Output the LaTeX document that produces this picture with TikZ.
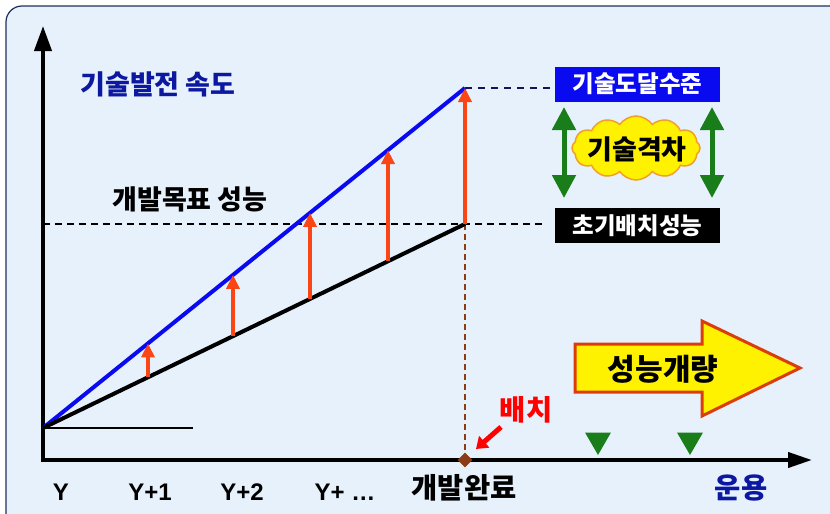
\documentclass[tikz,border=0pt]{standalone}
\usepackage{fontspec}
\setmainfont{Noto Sans CJK KR}
\newfontfamily\lat{Liberation Sans}
\usetikzlibrary{arrows.meta,calc,shapes.symbols,shapes.geometric}
\definecolor{bgc}{RGB}{230,241,252}
\definecolor{bord}{RGB}{30,50,90}
\definecolor{navy}{RGB}{12,24,160}
\definecolor{lblue}{RGB}{10,10,240}
\definecolor{redo}{RGB}{250,70,20}
\definecolor{grn}{RGB}{25,125,25}
\definecolor{brn}{RGB}{140,60,20}
\definecolor{cloudb}{RGB}{240,160,40}
\definecolor{arrb}{RGB}{220,60,10}
\definecolor{navyd}{RGB}{20,20,90}
\tikzset{
  lbl/.style={font=\bfseries\fontsize{27}{27}\selectfont},
  lblb/.style={font=\bfseries\fontsize{28.5}{28.5}\selectfont},
  ylbl/.style={font=\lat\bfseries\fontsize{24}{24}\selectfont},
  upar/.style={redo,line width=4pt,-{Triangle[width=13pt,length=14pt]}},
  gap/.style={grn,line width=5pt,{Triangle[width=23pt,length=23pt]}-{Triangle[width=23pt,length=23pt]}},
  tbox/.style={minimum width=165pt,minimum height=35pt,inner sep=0pt,text=white,font=\bfseries\fontsize{23.5}{23.5}\selectfont},
  gtri/.style={fill=grn,draw=none,regular polygon,regular polygon sides=3,shape border rotate=180,minimum size=30pt,inner sep=0pt},
}
\begin{document}
\begin{tikzpicture}[x=1pt,y=-1pt]
\useasboundingbox (0,0) rectangle (830,514);
\begin{scope}
\clip (0,0) rectangle (830,514);
\draw[bord,line width=1.2pt,fill=bgc,rounded corners=16pt] (6,6) rectangle (860,540);
\end{scope}
% axes
\coordinate (O) at (43,428);
\coordinate (B) at (465,88);
\coordinate (K) at (465,224);
\coordinate (ax0) at (43,460);
\coordinate (ytop) at (43,26);
\coordinate (xend) at (812,460);
\draw[line width=4pt,-{Triangle[width=17pt,length=25pt]}] ($(ax0)+(0,2)$) -- (ytop);
\draw[line width=4pt,-{Triangle[width=15pt,length=24pt]}] ($(ax0)+(-2,0)$) -- (xend);
% thin baseline
\coordinate (thinE) at (193,428);
\draw[line width=1.5pt] (O) -- (thinE);
% dashed lines
\coordinate (dB) at (552,88);
\coordinate (dK) at (545,224);
\coordinate (dL) at (43,224);
\draw[navyd,line width=1.3pt,dash pattern=on 7pt off 6pt] (B) -- (dB);
\draw[line width=1.3pt,dash pattern=on 7pt off 5pt] (dL) -- (dK);
\coordinate (dia) at (465,460);
\draw[brn,line width=1.2pt,dash pattern=on 6pt off 4pt] (K) -- (dia);
% lines
\draw[lblue,line width=4pt] (O) -- (B);
\draw[line width=4pt] (O) -- (K);
% red arrows
\foreach \t in {0.2488,0.4502,0.6327,0.8175}
  \draw[upar] ($(O)!\t!(K)$) -- ($(O)!\t!(B)$);
\draw[upar] (K) -- (B);
% diamond
\node[diamond,fill=brn,minimum size=15pt,inner sep=0pt] (dm) at (dia) {};
% labels
\node[lbl,navy] (speed) at (158,84) {기술발전 속도};
\node[lbl] (goal) at (190,199) {개발목표 성능};
\node[ylbl] (y0) at (61,492) {Y};
\node[ylbl] (y1) at (150,492) {Y+1};
\node[ylbl] (y2) at (242,492) {Y+2};
\node[ylbl] (y3) at (345,492) {Y+ …};
\node[lblb] (done) at (464,488) {개발완료};
\node[lblb,navy] (ops) at (741,488) {운용};
\node[lblb,red] (dep) at (526,410) {배치};
\coordinate (depS) at (501,427);
\coordinate (depE) at (476,449);
\draw[red,line width=5pt,-{Triangle[width=15pt,length=11pt]}] (depS) -- (depE);
% green triangles
\node[gtri] (g1) at (598,440) {};
\node[gtri] (g2) at (690,440) {};
% boxes
\node[tbox,fill=lblue] (reach) at (637.5,84) {기술도달수준};
\node[tbox,fill=black] (init) at (637.5,225.5) {초기배치성능};
% gap arrows
\coordinate (la) at (564,107);
\coordinate (lb) at (564,198);
\coordinate (ra) at (712,107);
\coordinate (rb) at (712,198);
\draw[gap] (la) -- (lb);
\draw[gap] (ra) -- (rb);
\node[cloud,cloud puffs=12,cloud puff arc=110,aspect=2,fill=yellow,draw=cloudb,line width=1.5pt,minimum width=128pt,minimum height=64pt,inner sep=0pt] (cl) at (636,148) {};
\node[font=\bfseries\fontsize{27}{27}\selectfont] (cltxt) at (637,149) {기술격차};
% big arrow
\draw[fill=yellow,draw=arrb,line width=3pt,line join=miter]
  (575,344) -- (702,344) -- (702,321) -- (800,368) -- (702,416) -- (702,392) -- (575,392) -- cycle;
\node[font=\bfseries\fontsize{30}{30}\selectfont] (imp) at (663,369) {성능개량};
\end{tikzpicture}
\end{document}
